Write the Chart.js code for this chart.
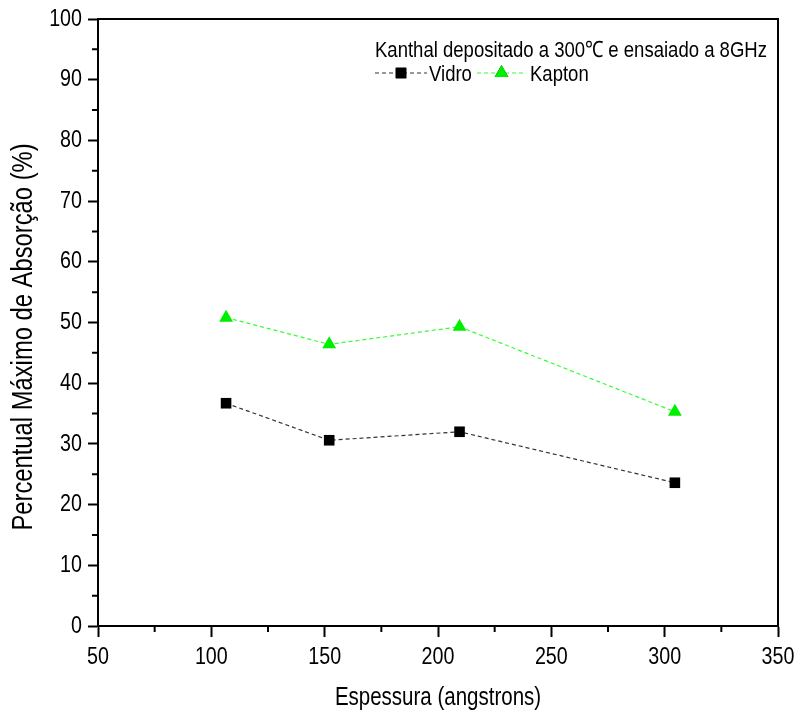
<!DOCTYPE html>
<html>
<head>
<meta charset="utf-8">
<script src="https://cdn.jsdelivr.net/npm/chart.js@4.4.1/dist/chart.umd.min.js"></script>
<style>
  html, body { margin: 0; padding: 0; background: #fff; }
  canvas { display: block; }
</style>
</head>
<body>
<canvas id="chart" width="798" height="717"></canvas>
<script>
// Data
const espessura = [106.5, 152, 209.5, 304.5];
const vidro = [36.7, 30.6, 32.0, 23.6];
const kapton = [50.8, 46.4, 49.3, 35.3];
const legendTitle = "Kanthal depositado a 300\u2103 e ensaiado a 8GHz";
const xTitle = "Espessura (angstrons)";
const yTitle = "Percentual M\u00e1ximo de Absor\u00e7\u00e3o (%)";

const FAMILY = '"Liberation Sans", Arial, sans-serif';
const NARROW = 0.82; // the reference uses a condensed face, no narrow font here

const canvas = document.getElementById("chart");
const c2d = canvas.getContext("2d");

// squeeze text horizontally (along the text direction, so rotated titles too)
const origFillText = c2d.fillText.bind(c2d);
const origMeasure = c2d.measureText.bind(c2d);
c2d.fillText = function (text, x, y, maxWidth) {
    this.save();
    this.translate(x, y);
    this.scale(NARROW, 1);
    if (maxWidth !== undefined) origFillText(text, 0, 0, maxWidth / NARROW);
    else origFillText(text, 0, 0);
    this.restore();
};
c2d.measureText = function (text) {
    const m = origMeasure(text);
    return {
        width: m.width * NARROW,
        actualBoundingBoxAscent: m.actualBoundingBoxAscent,
        actualBoundingBoxDescent: m.actualBoundingBoxDescent,
        actualBoundingBoxLeft: m.actualBoundingBoxLeft * NARROW,
        actualBoundingBoxRight: m.actualBoundingBoxRight * NARROW
    };
};

function toPoints(xs, ys) {
    return xs.map((x, i) => ({ x: x, y: ys[i] }));
}

// minor ticks, top/right frame, y title and the in-plot legend
const framePlugin = {
    id: "frame",
    afterDraw(chart) {
        const ctx = chart.ctx;
        const area = chart.chartArea;
        const xs = chart.scales.x;
        const ys = chart.scales.y;
        ctx.save();
        ctx.strokeStyle = "#000";
        ctx.lineWidth = 2;
        ctx.beginPath();
        ctx.moveTo(area.left, area.top);
        ctx.lineTo(area.right, area.top);
        ctx.lineTo(area.right, area.bottom);
        ctx.stroke();

        // minor ticks
        ctx.beginPath();
        for (let v = 5; v < 100; v += 10) {
            const py = ys.getPixelForValue(v);
            ctx.moveTo(area.left - 6, py);
            ctx.lineTo(area.left, py);
        }
        for (let v = 75; v < 350; v += 50) {
            const px = xs.getPixelForValue(v);
            ctx.moveTo(px, area.bottom);
            ctx.lineTo(px, area.bottom + 6);
        }
        ctx.stroke();

        // y title (sits a bit below the plot centre in the reference)
        ctx.save();
        ctx.fillStyle = "#000";
        ctx.font = "29px " + FAMILY;
        ctx.textAlign = "center";
        ctx.textBaseline = "middle";
        ctx.translate(24, 337);
        ctx.rotate(-Math.PI / 2);
        ctx.fillText(yTitle, 0, 0);
        ctx.restore();

        // legend
        ctx.fillStyle = "#000";
        ctx.font = "22.6px " + FAMILY;
        ctx.textBaseline = "alphabetic";
        ctx.textAlign = "left";
        ctx.fillText(legendTitle, 375, 57);

        const items = [
            { ds: chart.data.datasets[0], x0: 375, x1: 427, tx: 429 },
            { ds: chart.data.datasets[1], x0: 477, x1: 526, tx: 530 }
        ];
        const ly = 73;
        items.forEach(it => {
            ctx.save();
            ctx.strokeStyle = it.ds.borderColor;
            ctx.lineWidth = it.ds.borderWidth;
            ctx.setLineDash(it.ds.borderDash);
            ctx.beginPath();
            ctx.moveTo(it.x0, ly);
            ctx.lineTo(it.x1, ly);
            ctx.stroke();
            ctx.restore();
            Chart.helpers.drawPoint(ctx, {
                pointStyle: it.ds.pointStyle,
                radius: it.ds.pointRadius,
                rotation: 0,
                borderWidth: 0
            }, (it.x0 + it.x1) / 2, ly);
            ctx.fillStyle = it.ds.pointBackgroundColor;
            ctx.fill();
            ctx.fillStyle = "#000";
            ctx.fillText(it.ds.label, it.tx, ly + 8);
        });
        ctx.restore();
    }
};

new Chart(canvas, {
    type: "line",
    data: {
        datasets: [
            {
                label: "Vidro",
                data: toPoints(espessura, vidro),
                borderColor: "#333",
                borderWidth: 1.2,
                borderDash: [4, 3],
                pointStyle: "rect",
                pointRadius: 7.5,
                pointBackgroundColor: "#000",
                pointBorderWidth: 0,
                tension: 0
            },
            {
                label: "Kapton",
                data: toPoints(espessura, kapton),
                borderColor: "#33ff33",
                borderWidth: 1.2,
                borderDash: [4, 3],
                pointStyle: "triangle",
                pointRadius: 8,
                pointBackgroundColor: "#00ee00",
                pointBorderWidth: 0,
                tension: 0
            }
        ]
    },
    options: {
        responsive: false,
        animation: false,
        layout: { padding: { top: 19, right: 20, left: 0, bottom: 0 } },
        plugins: {
            legend: { display: false },
            tooltip: { enabled: false }
        },
        scales: {
            x: {
                type: "linear",
                min: 50,
                max: 350,
                afterFit(scale) {
                    scale.height = 91;
                    scale.paddingLeft = 0;
                    scale.paddingRight = 0;
                },
                border: { display: true, color: "#000", width: 2 },
                grid: {
                    drawOnChartArea: false,
                    drawTicks: true,
                    tickLength: 11,
                    tickWidth: 2,
                    tickColor: "#000"
                },
                ticks: {
                    stepSize: 50,
                    padding: 6,
                    color: "#000",
                    font: { family: FAMILY, size: 24 }
                },
                title: {
                    display: true,
                    text: xTitle,
                    color: "#000",
                    font: { family: FAMILY, size: 25, lineHeight: 1 },
                    padding: { top: 0, bottom: 6 }
                }
            },
            y: {
                type: "linear",
                min: 0,
                max: 100,
                afterFit(scale) {
                    scale.width = 98;
                    scale.paddingTop = 0;
                    scale.paddingBottom = 0;
                },
                border: { display: true, color: "#000", width: 2 },
                grid: {
                    drawOnChartArea: false,
                    drawTicks: true,
                    tickLength: 10,
                    tickWidth: 2,
                    tickColor: "#000"
                },
                ticks: {
                    stepSize: 10,
                    padding: 6,
                    color: "#000",
                    font: { family: FAMILY, size: 24 }
                }
            }
        }
    },
    plugins: [framePlugin]
});
</script>
</body>
</html>
